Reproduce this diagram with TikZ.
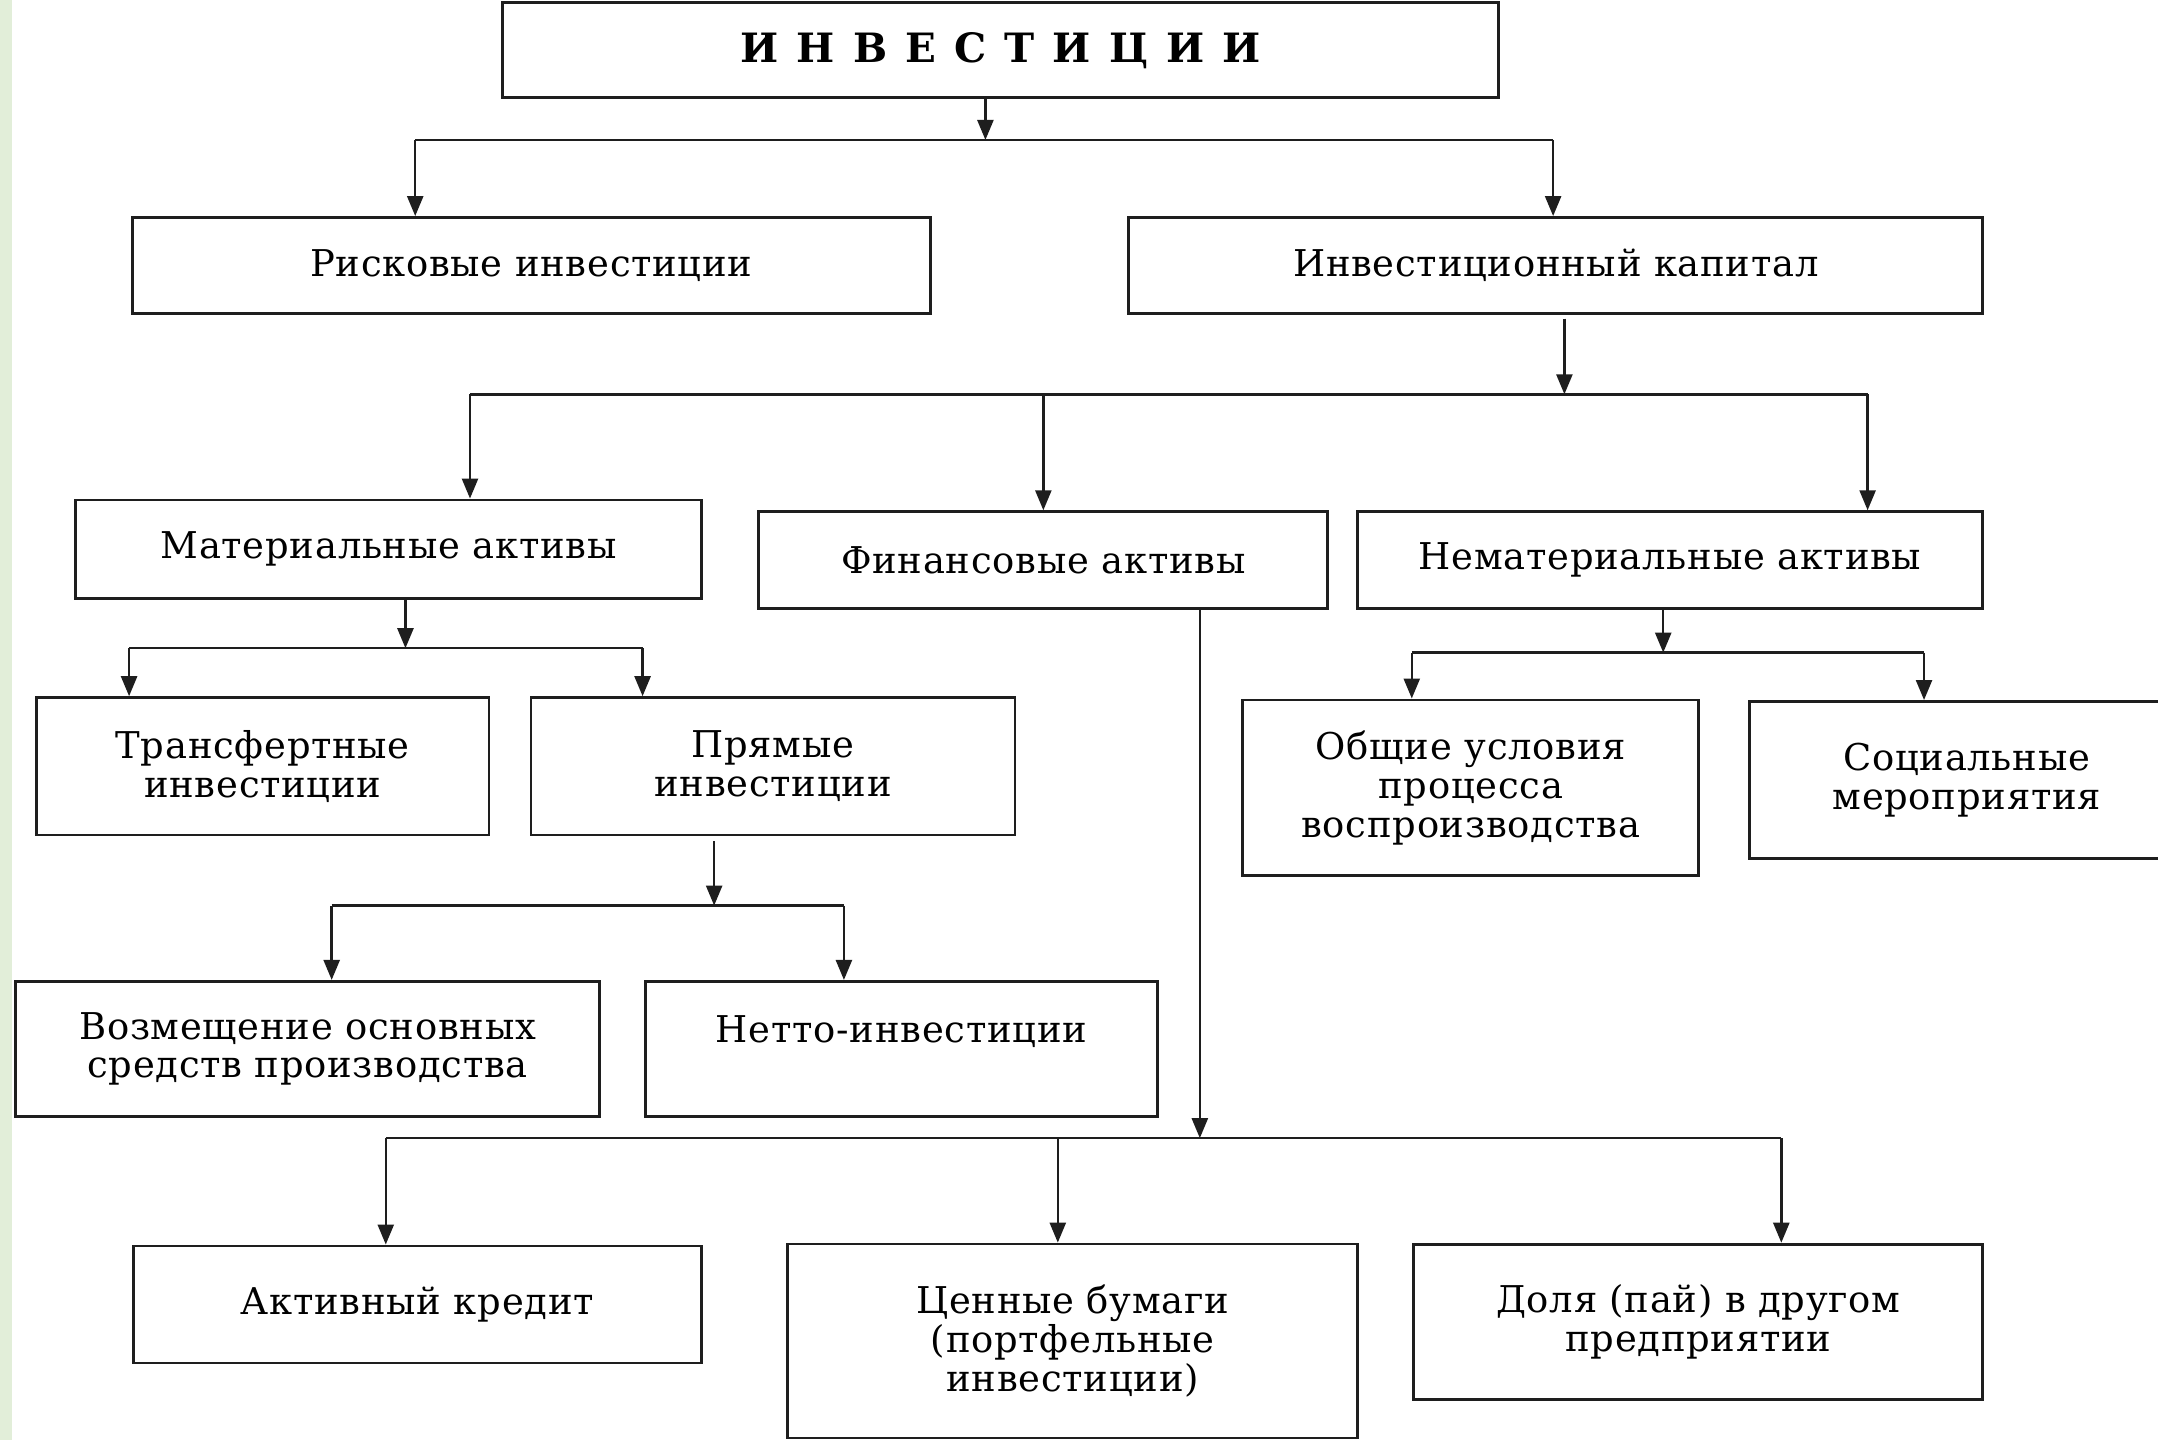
\documentclass[tikz,border=0pt]{standalone}
\usepackage{fontspec}
\setmainfont{DejaVu Serif}
\usepackage{tikz}
\usetikzlibrary{calc,arrows.meta}
\definecolor{stripgreen}{HTML}{E2EED9}
\definecolor{linegray}{HTML}{1E1E1E}
\tikzset{
  box/.style={draw=linegray,line width=0.8pt,align=center,inner sep=0pt,
    font=\fontsize{10.5}{11}\selectfont\addfontfeature{LetterSpace=2}},
  titlebox/.style={box,font=\fontsize{11.5}{12}\selectfont\bfseries\addfontfeature{LetterSpace=10}},
  arr/.style={line width=0.7pt,draw=linegray,-{Triangle[length=2mm,width=1.6mm]}},
  bar/.style={line width=0.7pt,draw=linegray}
}
\begin{document}
\begin{tikzpicture}[x=0.13763mm,y=-0.13763mm]
                      \clip (0,0) rectangle (1568,1046);
                      \fill[white] (0,0) rectangle (1568,1046);
                      \fill[stripgreen] (0,0) rectangle (8.7,1046);
                      \node[titlebox,minimum width=99.6mm,minimum height=9.5mm](inv)at(727,36.5){И Н В Е С Т И Ц И И};
                      \node[box,minimum width=79.8mm,minimum height=9.63mm](risk)at(386,193){Рисковые инвестиции};
                      \node[box,minimum width=85.4mm,minimum height=9.63mm](cap)at(1130.5,193){Инвестиционный капитал};
                      \node[box,minimum width=62.6mm,minimum height=9.83mm](mat)at(282.4,399){Материальные активы};
                      \node[box,minimum width=56.9mm,minimum height=9.66mm](fin)at(758.1,406.9){Финансовые активы};
                      \node[box,minimum width=62.5mm,minimum height=9.66mm](nemat)at(1213.5,406.9){Нематериальные активы};
                      \node[box,minimum width=45.25mm,minimum height=13.74mm](trans)at(190.9,556.8){Трансфертные\\инвестиции};
                      \node[box,minimum width=48.4mm,minimum height=13.74mm](pryam)at(561.7,556.8){Прямые\\инвестиции};
                      \node[box,minimum width=58.4mm,minimum height=13.5mm](vozm)at(223.5,762.1){Возмещение основных\\средств производства};
                      \node[box,minimum width=51.2mm,minimum height=13.5mm](netto)at(655,762.1){Нетто-инвестиции\\\mbox{}};
                      \node[box,minimum width=45.6mm,minimum height=17.6mm](obsch)at(1068.7,572.5){Общие условия\\процесса\\воспроизводства};
                      \node[box,minimum width=43.5mm,minimum height=15.7mm](soc)at(1429,566.7){Социальные\\мероприятия};
                      \node[box,minimum width=56.8mm,minimum height=11.7mm](akt)at(303.3,947.8){Активный кредит};
                      \node[box,minimum width=57mm,minimum height=19.4mm](cen)at(779.4,974.4){Ценные бумаги\\(портфельные\\инвестиции)};
                      \node[box,minimum width=56.9mm,minimum height=15.5mm](dolya)at(1234,960.3){Доля (пай) в другом\\предприятии};
                      \coordinate (b1l) at (301.7,101.7);
                      \coordinate (b1r) at (1128.5,101.7);
                      \coordinate (b1m) at (716,101.7);
                      \coordinate (b2l) at (341.5,286.5);
                      \coordinate (b2r) at (1357,286.5);
                      \coordinate (b2m) at (1136.7,286.5);
                      \coordinate (b3l) at (93.8,471);
                      \coordinate (b3r) at (466.9,471);
                      \coordinate (b3m) at (294.6,471);
                      \coordinate (b4l) at (241,658);
                      \coordinate (b4r) at (613.2,658);
                      \coordinate (b4m) at (518.9,658);
                      \coordinate (b5l) at (280.3,827);
                      \coordinate (b5r) at (1294.3,827);
                      \coordinate (b5m) at (871.8,827);
                      \coordinate (b5c) at (768.6,827);
                      \coordinate (b6l) at (1025.8,474.2);
                      \coordinate (b6r) at (1398,474.2);
                      \coordinate (b6m) at (1208.5,474.2);
                      \draw[arr] (inv.south -| b1m) -- (b1m);
                      \draw[bar] (b1l) -- (b1r);
                      \draw[arr] (b1l) -- (risk.north -| b1l);
                      \draw[arr] (b1r) -- (cap.north -| b1r);
                      \draw[arr,shorten <=1pt] (cap.south -| b2m) -- (b2m);
                      \draw[bar] (b2l) -- (b2r);
                      \draw[arr] (b2l) -- (mat.north -| b2l);
                      \draw[arr] (fin.north |- b2l) -- (fin.north);
                      \draw[arr] (b2r) -- (nemat.north -| b2r);
                      \draw[arr] (mat.south -| b3m) -- (b3m);
                      \draw[bar] (b3l) -- (b3r);
                      \draw[arr] (b3l) -- (trans.north -| b3l);
                      \draw[arr] (b3r) -- (pryam.north -| b3r);
                      \draw[arr,shorten <=1.4pt] (pryam.south -| b4m) -- (b4m);
                      \draw[bar] (b4l) -- (b4r);
                      \draw[arr] (b4l) -- (vozm.north -| b4l);
                      \draw[arr] (b4r) -- (netto.north -| b4r);
                      \draw[arr] (fin.south -| b5m) -- (b5m);
                      \draw[bar] (b5l) -- (b5r);
                      \draw[arr] (b5l) -- (akt.north -| b5l);
                      \draw[arr] (b5c) -- (cen.north -| b5c);
                      \draw[arr] (b5r) -- (dolya.north -| b5r);
                      \draw[arr] (nemat.south -| b6m) -- (b6m);
                      \draw[bar] (b6l) -- (b6r);
                      \draw[arr] (b6l) -- (obsch.north -| b6l);
                      \draw[arr] (b6r) -- (soc.north -| b6r);
                  \end{tikzpicture}
\end{document}
